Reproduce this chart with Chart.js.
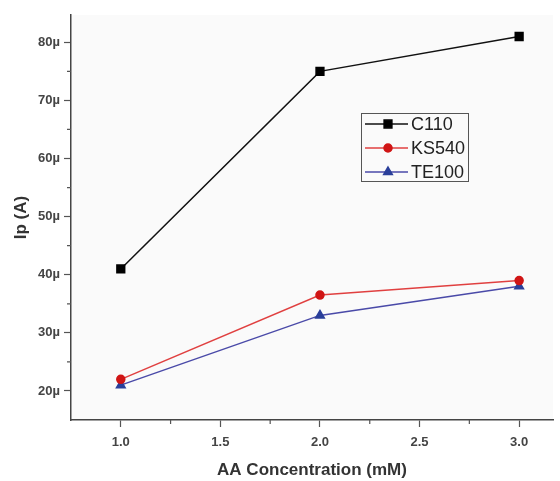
<!DOCTYPE html>
<html lang="en">
<head>
    <meta charset="UTF-8">
    <title>Ip vs AA Concentration</title>
    <script src="https://cdnjs.cloudflare.com/ajax/libs/Chart.js/4.4.1/chart.umd.min.js"></script>
    <style>
        body { margin: 0; padding: 0; background: #ffffff; }
        #wrap { width: 560px; height: 481px; }
    </style>
</head>
<body>
    <div id="wrap"><canvas id="ipChart" width="560" height="481"></canvas></div>

    <script>
        // Data
        const concentrations = [1.0, 2.0, 3.0];
        const c110 = [41, 75, 81];
        const ks540 = [22, 36.5, 39];
        const te100 = [21, 33, 38];

        const xMajorTicks = [1.0, 1.5, 2.0, 2.5, 3.0];
        const xMinorTicks = [1.25, 1.75, 2.25, 2.75];
        const yMajorTicks = [20, 30, 40, 50, 60, 70, 80];
        const yMinorTicks = [25, 35, 45, 55, 65, 75];

        const toPoints = (ys) => concentrations.map((x, i) => ({ x: x, y: ys[i] }));

        // Short minor tick marks on both axes
        const minorTicks = {
            id: 'minorTicks',
            afterDraw(chart) {
                const ctx = chart.ctx;
                const xs = chart.scales.x, ys = chart.scales.y;
                ctx.save();
                ctx.strokeStyle = '#555';
                ctx.lineWidth = 1.2;
                ctx.beginPath();
                xMinorTicks.forEach(v => {
                    const px = xs.getPixelForValue(v);
                    ctx.moveTo(px, xs.top);
                    ctx.lineTo(px, xs.top + 4);
                });
                yMinorTicks.forEach(v => {
                    const py = ys.getPixelForValue(v);
                    ctx.moveTo(ys.right, py);
                    ctx.lineTo(ys.right - 4, py);
                });
                ctx.stroke();
                ctx.restore();
            }
        };

        // Boxed legend inside the plot
        const boxLegend = {
            id: 'boxLegend',
            afterDraw(chart) {
                const ctx = chart.ctx;
                const x0 = 361, y0 = 113, w = 107, h = 68;
                ctx.save();
                ctx.strokeStyle = '#555';
                ctx.lineWidth = 1;
                ctx.strokeRect(x0 + 0.5, y0 + 0.5, w, h);
                chart.data.datasets.forEach((ds, i) => {
                    const y = y0 + 11 + i * 24;
                    ctx.strokeStyle = ds.borderColor;
                    ctx.lineWidth = 1.5;
                    ctx.beginPath();
                    ctx.moveTo(x0 + 4, y);
                    ctx.lineTo(x0 + 47, y);
                    ctx.stroke();
                    ctx.fillStyle = ds.pointBackgroundColor;
                    ctx.strokeStyle = ds.pointBorderColor;
                    Chart.helpers.drawPoint(ctx, {
                        pointStyle: ds.pointStyle,
                        radius: ds.pointRadius,
                        borderWidth: 1
                    }, x0 + 27, y);
                    ctx.fillStyle = '#222';
                    ctx.font = '18px "Liberation Sans", Arial, sans-serif';
                    ctx.textBaseline = 'middle';
                    ctx.fillText(ds.label, x0 + 50, y + 1);
                });
                ctx.restore();
            }
        };

        const whiteBg = {
            id: 'whiteBg',
            beforeDraw(chart) {
                const ctx = chart.ctx;
                ctx.save();
                ctx.fillStyle = '#ffffff';
                ctx.fillRect(0, 0, chart.width, chart.height);
                ctx.fillStyle = '#fafafa';
                const a = chart.chartArea;
                ctx.fillRect(a.left, a.top, a.right - a.left, a.bottom - a.top);
                ctx.restore();
            }
        };

        const tickFont = { family: '"Liberation Sans", Arial, sans-serif', size: 13, weight: 'bold' };
        const titleFont = { family: '"Liberation Sans", Arial, sans-serif', size: 17, weight: 'bold' };

        new Chart(document.getElementById('ipChart'), {
            type: 'line',
            data: {
                datasets: [
                    {
                        label: 'C110',
                        data: toPoints(c110),
                        borderColor: '#111111',
                        pointBackgroundColor: '#000000',
                        pointBorderColor: '#000000',
                        pointStyle: 'rect',
                        pointRadius: 5.5,
                        borderWidth: 1.5
                    },
                    {
                        label: 'KS540',
                        data: toPoints(ks540),
                        borderColor: '#e04040',
                        pointBackgroundColor: '#d01515',
                        pointBorderColor: '#d01515',
                        pointStyle: 'circle',
                        pointRadius: 4,
                        borderWidth: 1.5
                    },
                    {
                        label: 'TE100',
                        data: toPoints(te100),
                        borderColor: '#4a4aa8',
                        pointBackgroundColor: '#2a3f9a',
                        pointBorderColor: '#2a3f9a',
                        pointStyle: 'triangle',
                        pointRadius: 5,
                        borderWidth: 1.5
                    }
                ]
            },
            options: {
                responsive: false,
                animation: false,
                layout: { padding: { top: 15, right: 0, left: 0, bottom: 0 } },
                plugins: {
                    legend: { display: false },
                    tooltip: { enabled: false }
                },
                scales: {
                    x: {
                        type: 'linear',
                        min: 0.75,
                        max: 3.17,
                        afterBuildTicks: (axis) => { axis.ticks = xMajorTicks.map(v => ({ value: v })); },
                        afterFit: (axis) => { axis.height = 61; },
                        grid: { display: true, drawOnChartArea: false, tickLength: 7, tickColor: '#555', tickWidth: 1.2 },
                        border: { display: true, color: '#444', width: 1.5 },
                        ticks: {
                            font: tickFont,
                            color: '#444',
                            padding: 8,
                            maxRotation: 0,
                            callback: (v) => Number(v).toFixed(1)
                        },
                        title: {
                            display: true,
                            text: 'AA Concentration (mM)',
                            font: titleFont,
                            color: '#333',
                            padding: { top: 2, bottom: 0 }
                        }
                    },
                    y: {
                        type: 'linear',
                        min: 15,
                        max: 84.7,
                        afterBuildTicks: (axis) => { axis.ticks = yMajorTicks.map(v => ({ value: v })); },
                        afterFit: (axis) => { axis.width = 71; },
                        grid: { display: true, drawOnChartArea: false, tickLength: 7, tickColor: '#555', tickWidth: 1.2 },
                        border: { display: true, color: '#444', width: 1.5 },
                        ticks: {
                            font: tickFont,
                            color: '#444',
                            padding: 4,
                            callback: (v) => v + 'µ'
                        },
                        title: {
                            display: true,
                            text: 'Ip (A)',
                            font: titleFont,
                            color: '#333',
                            padding: { top: 11, bottom: 0 }
                        }
                    }
                }
            },
            plugins: [whiteBg, minorTicks, boxLegend]
        });
    </script>
</body>
</html>
